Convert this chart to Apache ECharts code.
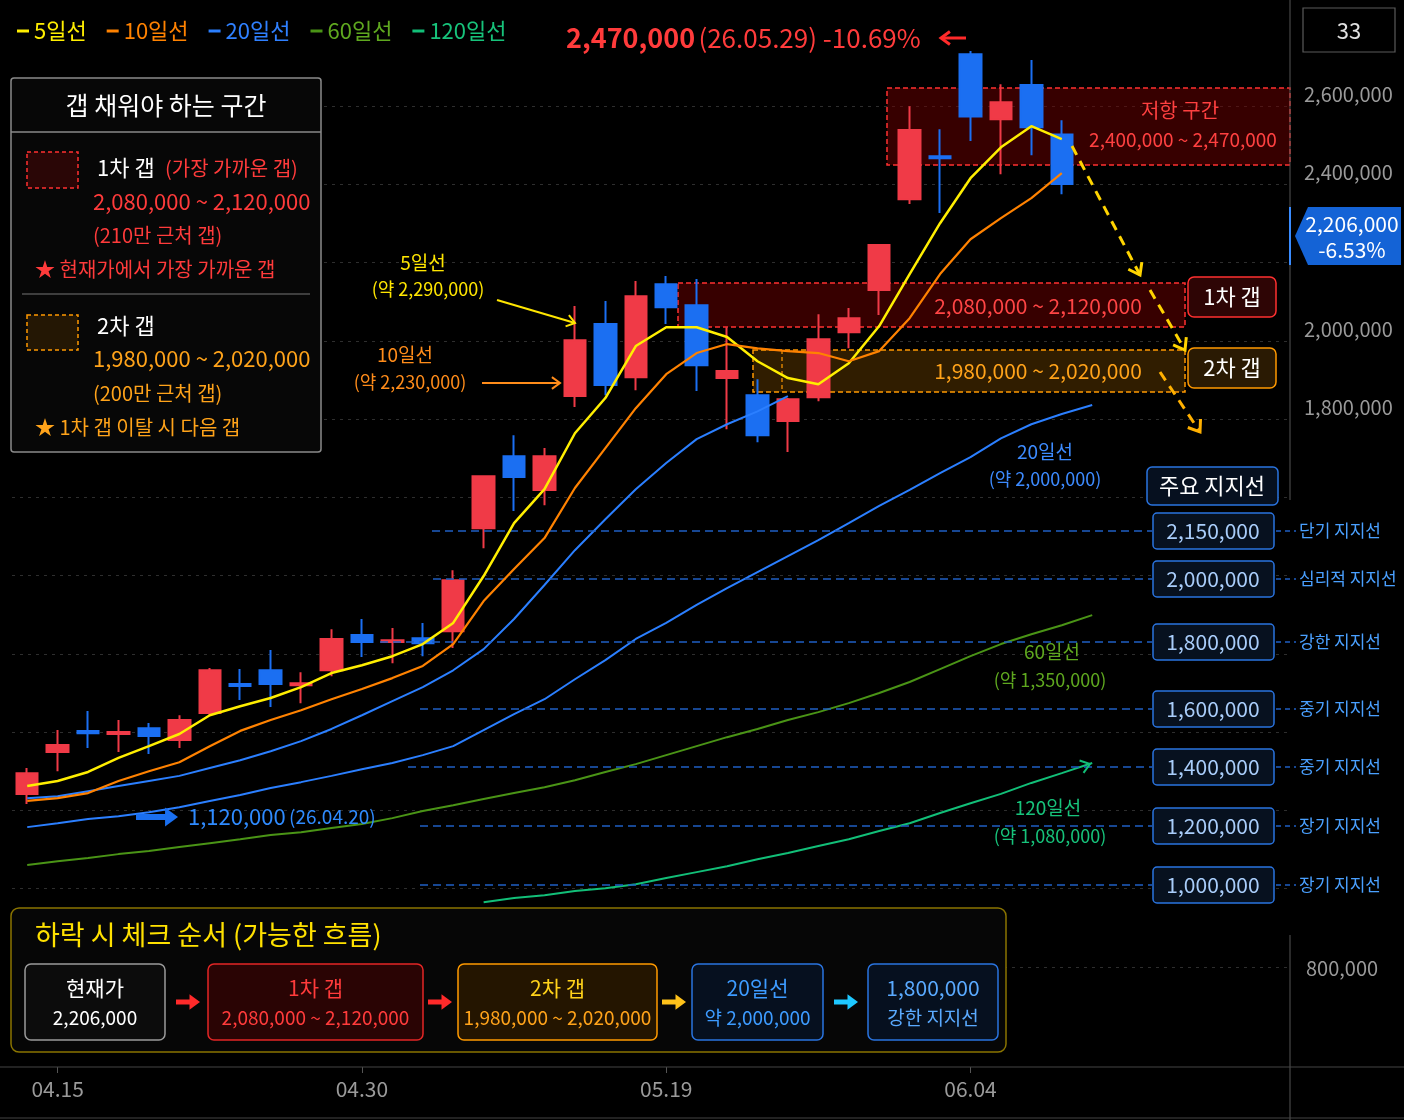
<!DOCTYPE html>
<html>
<head>
<meta charset="utf-8">
<script src="https://cdn.jsdelivr.net/npm/echarts@6/dist/echarts.min.js"></script>
<style>
  html, body { margin: 0; padding: 0; background: #000; }
  #main { width: 1404px; height: 1120px; }
</style>
</head>
<body>
<div id="main"></div>
<script>
var FONT = '"Noto Sans CJK KR", "Noto Sans", sans-serif';

// 날짜 (뒤쪽 빈 칸은 전망 영역)
var dates = ['04.14', '04.15', '04.16', '04.17', '04.20', '04.21', '04.22', '04.23', '04.24', '04.27', '04.28',
    '04.30', '05.04', '05.06', '05.07', '05.08', '05.11', '05.12', '05.13', '05.14', '05.15',
    '05.19', '05.20', '05.21', '05.22', '05.26', '05.27', '05.28', '05.29', '06.01', '06.02',
    '06.04', '06.05', '06.08', '06.09', '06.10', '06.11', '06.12', '06.15', '06.16', '06.17', '06.18'];
var xLabelIdx = [1, 11, 21, 31];

// 캔들 [시가, 종가, 저가, 고가]
var candles = [
    [842000, 895000, 816000, 908000],
    [949000, 967000, 900000, 1005000],
    [1003000, 997000, 959000, 1054000],
    [995000, 1000000, 949000, 1031000],
    [1010000, 990000, 944000, 1023000],
    [980000, 1031000, 959000, 1043000],
    [1049000, 1158000, 1043000, 1164000],
    [1123000, 1118000, 1082000, 1161000],
    [1158000, 1123000, 1064000, 1210000],
    [1120000, 1125000, 1074000, 1153000],
    [1158000, 1238000, 1143000, 1263000],
    [1248000, 1230000, 1192000, 1289000],
    [1230000, 1235000, 1176000, 1266000],
    [1240000, 1227000, 1194000, 1279000],
    [1258000, 1388000, 1215000, 1414000],
    [1521000, 1654000, 1470000, 1656000],
    [1705000, 1652000, 1565000, 1759000],
    [1619000, 1705000, 1580000, 1726000],
    [1859000, 2002000, 1831000, 2089000],
    [2043000, 1887000, 1861000, 2102000],
    [1907000, 2114000, 1874000, 2153000],
    [2145000, 2086000, 2043000, 2166000],
    [2091000, 1938000, 1872000, 2158000],
    [1905000, 1923000, 1774000, 2035000],
    [1861000, 1759000, 1741000, 1902000],
    [1795000, 1851000, 1716000, 1854000],
    [1856000, 2004000, 1846000, 2068000],
    [2022000, 2058000, 1981000, 2084000],
    [2130000, 2245000, 2066000, 2247000],
    [2362000, 2539000, 2350000, 2600000],
    [2472000, 2467000, 2327000, 2541000],
    [2733000, 2574000, 2511000, 2741000],
    [2567000, 2610000, 2426000, 2656000],
    [2654000, 2546000, 2475000, 2718000],
    [2528000, 2401000, 2375000, 2564000]
];

// 이동평균선
var ma5 = [862000, 875000, 898000, 934000, 964000, 995000, 1043000, 1066000, 1087000, 1115000,
    1151000, 1171000, 1194000, 1225000, 1279000, 1399000, 1534000, 1621000, 1764000, 1854000,
    1987000, 2035000, 2035000, 2010000, 1948000, 1905000, 1889000, 1943000, 2038000, 2171000,
    2301000, 2416000, 2495000, 2549000, 2516000];
var ma10 = [824000, 831000, 844000, 875000, 900000, 923000, 964000, 1003000, 1031000, 1056000,
    1084000, 1110000, 1138000, 1169000, 1225000, 1335000, 1417000, 1496000, 1624000, 1726000,
    1828000, 1915000, 1969000, 1992000, 1981000, 1974000, 1969000, 1948000, 1974000, 2058000,
    2171000, 2260000, 2314000, 2365000, 2429000];
var maBlueShort = [831000, 836000, 849000, 862000, 875000, 888000, 908000, 928000, 951000, 977000,
    1008000, 1043000, 1079000, 1115000, 1158000, 1212000, 1289000, 1376000, 1465000, 1544000,
    1621000, 1688000, 1749000, 1787000, 1820000, 1859000];
var ma20 = [757000, 767000, 778000, 785000, 795000, 808000, 824000, 839000, 857000, 872000,
    888000, 905000, 921000, 941000, 964000, 1005000, 1046000, 1084000, 1135000, 1184000,
    1238000, 1279000, 1325000, 1368000, 1409000, 1450000, 1491000, 1534000, 1578000, 1619000,
    1662000, 1703000, 1751000, 1787000, 1813000, 1836000];
var ma60 = [660000, 670000, 678000, 688000, 696000, 706000, 716000, 726000, 737000, 744000,
    755000, 765000, 780000, 798000, 813000, 829000, 844000, 859000, 877000, 898000,
    918000, 941000, 964000, 987000, 1008000, 1031000, 1051000, 1074000, 1100000, 1128000,
    1161000, 1194000, 1225000, 1250000, 1273000, 1299000];
var ma120 = ['-', '-', '-', '-', '-', '-', '-', '-', '-', '-', '-', '-', '-', '-', '-',
    565000, 576000, 583000, 594000, 601000, 611000, 627000, 642000, 657000, 675000,
    691000, 709000, 726000, 747000, 767000, 793000, 818000, 842000, 870000, 895000, 921000];

// 축 눈금 라벨
var yLabelValues = [2600000, 2400000, 2000000, 1800000];

// 지지선 표시
var supportValues = ['2,150,000', '2,000,000', '1,800,000', '1,600,000', '1,400,000', '1,200,000', '1,000,000'];
var supportNames = ['단기 지지선', '심리적 지지선', '강한 지지선', '중기 지지선', '중기 지지선', '장기 지지선', '장기 지지선'];
var supportY = [531, 579, 642, 709, 767, 826, 885];
var supportStartX = [432, 433, 380, 420, 408, 420, 420];

// ---- graphic helpers ----
function rect(x, y, w, h, fill, stroke, lw, dash, r, z) {
    return { type: 'rect', z: z || 1, shape: { x: x, y: y, width: w, height: h, r: r || 0 },
        style: { fill: fill, stroke: stroke || null, lineWidth: lw || 1, lineDash: dash || null } };
}
function line(x1, y1, x2, y2, stroke, lw, dash, z) {
    return { type: 'line', z: z || 5, shape: { x1: x1, y1: y1, x2: x2, y2: y2 },
        style: { stroke: stroke, lineWidth: lw || 1, lineDash: dash || null } };
}
function text(x, y, s, fill, size, align, weight, z) {
    return { type: 'text', z: z || 20, x: x, y: y,
        style: { text: s, fill: fill, font: (weight || 'normal') + ' ' + size + 'px ' + FONT,
            align: align || 'left', verticalAlign: 'middle' } };
}
function head(x, y, ang, size, color, lw, filled) {
    var a1 = ang + Math.PI * 0.8, a2 = ang - Math.PI * 0.8;
    var pts = [[x + size * Math.cos(a1), y + size * Math.sin(a1)], [x, y], [x + size * Math.cos(a2), y + size * Math.sin(a2)]];
    if (filled) return { type: 'polygon', z: 20, shape: { points: pts }, style: { fill: color } };
    return { type: 'polyline', z: 20, shape: { points: pts }, style: { stroke: color, lineWidth: lw, fill: null } };
}
function arrow(x1, y1, x2, y2, color, lw, dash, hs, filled) {
    var ang = Math.atan2(y2 - y1, x2 - x1);
    var ex = filled ? x2 - hs * 0.6 * Math.cos(ang) : x2, ey = filled ? y2 - hs * 0.6 * Math.sin(ang) : y2;
    return [line(x1, y1, ex, ey, color, lw, dash, 20), head(x2, y2, ang, hs, color, lw, filled)];
}

var g = [];
function add(a) { g = g.concat(a); }

// 축 선
add([line(1290, 0, 1290, 500, '#555', 1, null, 3), line(1290, 935, 1290, 1120, '#555', 1, null, 3),
    line(0, 1067, 1404, 1067, '#444', 1, null, 3), line(0, 1118, 1404, 1118, '#444', 1, null, 3)]);
add([rect(1303, 8, 92, 44, '#000', '#5a5a5a', 1.2, null, 0, 15), text(1349, 31, '33', '#e0e0e0', 22, 'center')]);
add(text(1306, 968, '800,000', '#9a9a9a', 20, 'left'));

// 현재가 태그
add([{ type: 'polygon', z: 18, shape: { points: [[1295, 236], [1308, 207], [1401, 207], [1401, 265], [1308, 265]] }, style: { fill: '#1463d6' } },
    line(1290, 207, 1290, 265, '#3a8cff', 2, null, 18),
    text(1352, 224, '2,206,000', '#fff', 21, 'center'), text(1352, 250, '-6.53%', '#fff', 21, 'center')]);

// 제목
add({ type: 'text', z: 20, x: 566, y: 38, style: { text: '{b|2,470,000} {n|(26.05.29) -10.69%}', verticalAlign: 'middle',
    rich: { b: { fill: '#ff3b3b', font: 'bold 27px ' + FONT }, n: { fill: '#ff3b3b', font: '26px ' + FONT } } } });
add(arrow(966, 38, 941, 38, '#ff2a2a', 3, null, 11, false));

// 범례 박스 (갭)
add([rect(11, 78, 310, 374, '#070707', '#8a8a8a', 1.5, null, 3, 15),
    text(166, 105, '갭 채워야 하는 구간', '#fff', 25, 'center'),
    line(11, 132, 321, 132, '#8a8a8a', 1.5, null, 16),
    rect(27, 152, 51, 36, '#2a0606', '#ff3030', 1.5, [4, 3], 0, 16),
    text(97, 168, '1차 갭', '#fff', 22), text(165, 168, '(가장 가까운 갭)', '#ff3b3b', 20),
    text(93, 202, '2,080,000 ~ 2,120,000', '#ff3b3b', 22),
    text(93, 235, '(210만 근처 갭)', '#ff3b3b', 20),
    text(35, 269, '★ 현재가에서 가장 가까운 갭', '#ff3b3b', 20),
    line(22, 294, 310, 294, '#777', 1, null, 16),
    rect(27, 315, 51, 35, '#241704', '#ff9900', 1.5, [4, 3], 0, 16),
    text(97, 326, '2차 갭', '#fff', 22),
    text(93, 359, '1,980,000 ~ 2,020,000', '#ffa31a', 22),
    text(93, 393, '(200만 근처 갭)', '#ffa31a', 20),
    text(35, 427, '★ 1차 갭 이탈 시 다음 갭', '#ffa31a', 20)]);

// 저항 구간 / 갭 구간
add([rect(887, 88, 403, 77, 'rgba(110,0,0,0.5)', '#ff3030', 1.5, [5, 3], 0, 1),
    text(1180, 110, '저항 구간', '#ff4040', 20, 'center'),
    text(1183, 140, '2,400,000 ~ 2,470,000', '#ff4040', 19, 'center'),
    rect(678, 283, 507, 44, 'rgba(110,0,0,0.5)', '#ff3030', 1.5, [5, 3], 0, 1),
    text(1038, 306, '2,080,000 ~ 2,120,000', '#ff4545', 21, 'center'),
    rect(753, 350, 432, 42, 'rgba(95,58,0,0.5)', '#ff9900', 1.5, [5, 3], 0, 1),
    line(782, 350, 782, 392, '#ff9900', 1.2, [4, 3], 1),
    text(1038, 371, '1,980,000 ~ 2,020,000', '#ffa31a', 21, 'center'),
    rect(1188, 277, 88, 40, '#2e0505', '#ff3030', 1.5, null, 6, 15), text(1232, 297, '1차 갭', '#fff', 22, 'center'),
    rect(1188, 348, 88, 40, '#2a1a03', '#ff9900', 1.5, null, 6, 15), text(1232, 368, '2차 갭', '#fff', 22, 'center')]);

// 하락 전망 화살표
add(arrow(1072, 146, 1140, 275, '#ffd400', 3, [10, 7], 13, false));
add(arrow(1150, 290, 1185, 350, '#ffd400', 3, [10, 7], 13, false));
add(arrow(1160, 372, 1200, 432, '#ffb000', 3, [10, 7], 13, false));

// 주요 지지선
add([rect(1147, 467, 131, 38, '#06101f', '#2a74e0', 1.5, null, 5, 15), text(1212, 486, '주요 지지선', '#fff', 22, 'center')]);
supportY.forEach(function (y, i) {
    add([line(supportStartX[i], y, 1152, y, '#1f5fc4', 1.5, [8, 5], 4),
        line(1276, y, 1296, y, '#1f5fc4', 1.5, [5, 4], 4),
        rect(1153, y - 18, 121, 36, '#07111f', '#2a74e0', 1.5, null, 4, 15),
        text(1213, y, supportValues[i], '#a9cdfa', 21, 'center'),
        text(1299, y, supportNames[i], '#4aa0ff', 17, 'left')]);
});

// 이동평균선 주석
add([text(423, 263, '5일선', '#ffe600', 19, 'center'), text(428, 289, '(약 2,290,000)', '#ffe600', 18, 'center')]);
add(arrow(497, 300, 575, 323, '#ffe600', 2, null, 10, false));
add([text(405, 355, '10일선', '#ff8c1a', 19, 'center'), text(410, 382, '(약 2,230,000)', '#ff8c1a', 18, 'center')]);
add(arrow(482, 383, 560, 383, '#ff8c1a', 2, null, 10, false));
add([text(1045, 452, '20일선', '#3d8bff', 19, 'center'), text(1045, 479, '(약 2,000,000)', '#3d8bff', 18, 'center')]);
add([text(1052, 652, '60일선', '#5fa81f', 19, 'center'), text(1050, 680, '(약 1,350,000)', '#5fa81f', 18, 'center')]);
add([text(1048, 808, '120일선', '#17c37b', 19, 'center'), text(1050, 836, '(약 1,080,000)', '#17c37b', 18, 'center')]);
add(head(1090, 764, Math.atan2(-9, 28), 11, '#12bf78', 2, false));
add(arrow(136, 817, 178, 817, '#1a6ff0', 6, null, 16, true));
add({ type: 'text', z: 20, x: 188, y: 817, style: { text: '{b|1,120,000} {n|(26.04.20)}', verticalAlign: 'middle',
    rich: { b: { fill: '#2f8bff', font: '22px ' + FONT }, n: { fill: '#2f8bff', font: '19px ' + FONT } } } });

// 하락 시 체크 순서
add([rect(11, 908, 995, 144, '#060606', '#8a7400', 1.5, null, 8, 15),
    text(35, 935, '하락 시 체크 순서 (가능한 흐름)', '#ffe100', 27)]);
var flowBoxes = [
    { x: 25, w: 140, stroke: '#9a9a9a', fill: '#0c0c0c', t1: '현재가', t2: '2,206,000', c1: '#fff', c2: '#fff' },
    { x: 208, w: 215, stroke: '#e32626', fill: '#2a0404', t1: '1차 갭', t2: '2,080,000 ~ 2,120,000', c1: '#ff3b3b', c2: '#ff3b3b' },
    { x: 458, w: 199, stroke: '#ff9a00', fill: '#241500', t1: '2차 갭', t2: '1,980,000 ~ 2,020,000', c1: '#ffd21a', c2: '#ffa31a' },
    { x: 692, w: 131, stroke: '#2a74e0', fill: '#06101f', t1: '20일선', t2: '약 2,000,000', c1: '#3d9bff', c2: '#3d9bff' },
    { x: 868, w: 130, stroke: '#2a74e0', fill: '#06101f', t1: '1,800,000', t2: '강한 지지선', c1: '#5aaaff', c2: '#5aaaff' }
];
flowBoxes.forEach(function (b) {
    add([rect(b.x, 964, b.w, 76, b.fill, b.stroke, 1.5, null, 6, 16),
        text(b.x + b.w / 2, 988, b.t1, b.c1, 21, 'center'),
        text(b.x + b.w / 2, 1018, b.t2, b.c2, 19, 'center')]);
});
[[176, '#ff2a2a'], [428, '#ff2a2a'], [662, '#ffc21a'], [834, '#1ec8ff']].forEach(function (a) {
    add(arrow(a[0], 1002, a[0] + 24, 1002, a[1], 5, null, 13, true));
});

// ---- chart ----
var chart = echarts.init(document.getElementById('main'));
var option = {
    backgroundColor: '#000',
    animation: false,
    textStyle: { fontFamily: FONT },
    legend: {
        left: 12, top: 15, itemGap: 20, itemWidth: 12, itemHeight: 3, icon: 'rect',
        textStyle: { fontSize: 22, fontFamily: FONT },
        data: [
            { name: '5일선', textStyle: { color: '#ffee00' } },
            { name: '10일선', textStyle: { color: '#ff8200' } },
            { name: '20일선', textStyle: { color: '#2f80ff' } },
            { name: '60일선', textStyle: { color: '#5fa81f' } },
            { name: '120일선', textStyle: { color: '#17c37b' } }
        ]
    },
    grid: { left: 12, right: 114, top: 28, bottom: 75, outerBoundsMode: 'none' },
    xAxis: {
        type: 'category', data: dates, boundaryGap: true, offset: 22,
        axisLine: { show: false },
        axisTick: { show: true, alignWithLabel: true, length: 6, lineStyle: { color: '#555' },
            interval: function (i) { return xLabelIdx.indexOf(i) >= 0; } },
        axisLabel: { color: '#9a9a9a', fontSize: 21, margin: 12,
            interval: function (i) { return xLabelIdx.indexOf(i) >= 0; } }
    },
    yAxis: {
        type: 'value', position: 'right', min: 200000, max: 2800000, interval: 200000, scale: true,
        axisLine: { show: false }, axisTick: { show: false },
        splitLine: { showMaxLine: false, showMinLine: false, lineStyle: { color: '#2e2e2e', type: [3, 5] } },
        axisLabel: { color: '#9a9a9a', fontSize: 20, margin: 14, verticalAlign: 'bottom', lineHeight: 24,
            formatter: function (v) { return yLabelValues.indexOf(v) >= 0 ? v.toLocaleString('en-US') : ''; } }
    },
    graphic: { elements: g },
    series: [
        {
            name: '주가', type: 'candlestick', data: candles, barWidth: 22, z: 2,
            itemStyle: { color: '#f03a47', color0: '#1b6ff2', borderColor: '#f03a47', borderColor0: '#1b6ff2', borderWidth: 2 }
        },
        { name: '5일선', type: 'line', data: ma5, color: '#ffee00', symbol: 'none', z: 4, lineStyle: { width: 2.5 } },
        { name: '10일선', type: 'line', data: ma10, color: '#ff8200', symbol: 'none', z: 4, lineStyle: { width: 2.2 } },
        { name: '20일선', type: 'line', data: ma20, color: '#2b7fff', symbol: 'none', z: 3, lineStyle: { width: 2 } },
        { name: '20일선B', type: 'line', data: maBlueShort, color: '#2b7fff', symbol: 'none', z: 3, lineStyle: { width: 2 } },
        { name: '60일선', type: 'line', data: ma60, color: '#4a9416', symbol: 'none', z: 3, lineStyle: { width: 2 } },
        { name: '120일선', type: 'line', data: ma120, color: '#12bf78', symbol: 'none', z: 3, lineStyle: { width: 2 } }
    ]
};
chart.setOption(option);
</script>
</body>
</html>
